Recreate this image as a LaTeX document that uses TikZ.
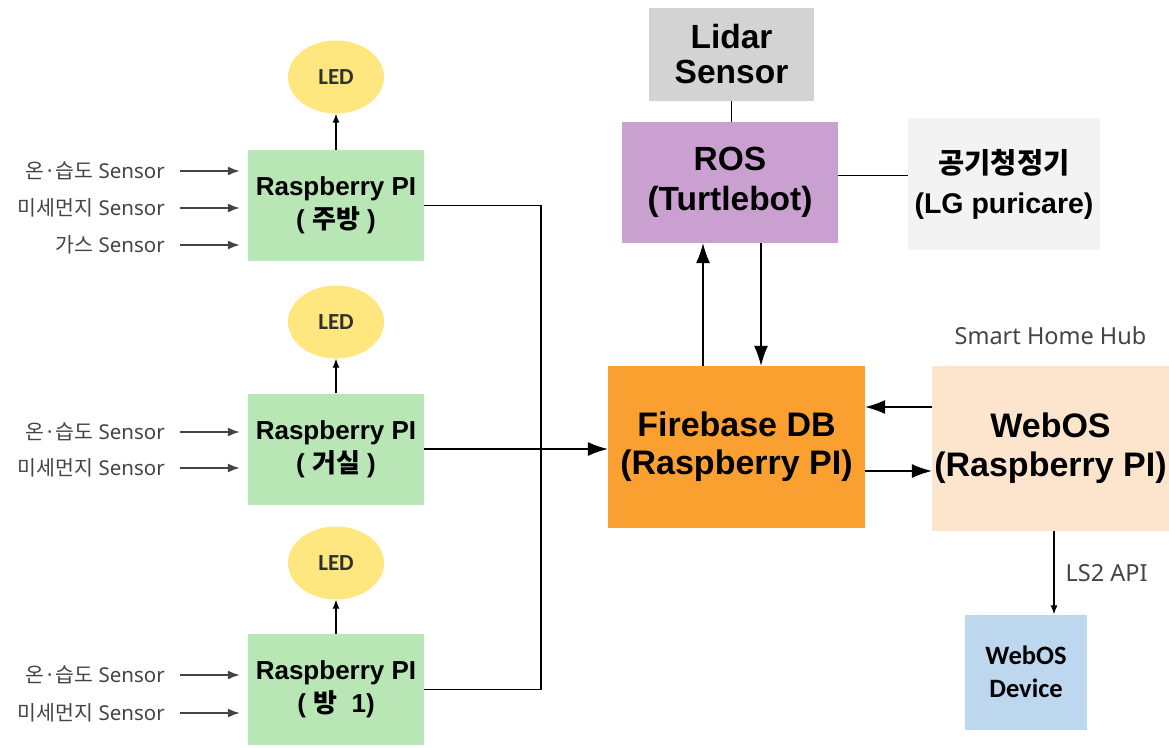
\documentclass[tikz,border=0pt]{standalone}
\usepackage{fontspec}
\setmainfont{Liberation Sans}
\newfontfamily\kr{Noto Sans CJK KR}
\newfontfamily\notosans{Noto Sans}
\newfontfamily\carlito{Carlito}
\usetikzlibrary{arrows.meta,shapes.geometric,positioning}

\definecolor{rpigreen}{HTML}{B8E6B4}
\definecolor{ledyellow}{HTML}{FFE77F}
\definecolor{lidargray}{HTML}{D3D3D3}
\definecolor{rospurple}{HTML}{C9A0D0}
\definecolor{airgray}{HTML}{F3F3F3}
\definecolor{fborange}{HTML}{FAA031}
\definecolor{hubpeach}{HTML}{FDE5CD}
\definecolor{devblue}{HTML}{BDD7EE}
\definecolor{labelgray}{HTML}{444444}

\begin{document}
\begin{tikzpicture}[x=1pt,y=-1pt,
    box/.style={rectangle,inner sep=0pt,align=center,text=black},
    rpi/.style={box,fill=rpigreen,minimum width=176pt,minimum height=111pt,
      font=\fontsize{26}{33}\selectfont\bfseries},
    led/.style={ellipse,fill=ledyellow,minimum width=96pt,minimum height=73pt,
      inner sep=0pt,text=labelgray!70!black,font=\carlito\fontsize{23}{26}\selectfont\bfseries},
    sensor/.style={anchor=east,inner sep=0pt,text=labelgray,
      font=\notosans\fontsize{20.5}{24}\selectfont},
    note/.style={inner sep=0pt,text=labelgray,font=\notosans\fontsize{23.5}{26}\selectfont},
    slink/.style={draw=labelgray,line width=1.6pt,-{Latex[length=12pt,width=9pt]},
      shorten <=15pt,shorten >=8pt},
    ledlink/.style={line width=1.2pt,-{Latex[length=9pt,width=7pt]}},
    link/.style={line width=1.2pt,-{Latex[length=20pt,width=14pt]}},
    wire/.style={line width=1.2pt},
  ]
    \useasboundingbox (0,0) rectangle (1169,747);

    % raspberry pi nodes with their leds
    \node[rpi] (rpi1) at (336,205.5) {Raspberry PI\\( {\kr 주방} )};
    \node[rpi] (rpi2) at (336,449) {Raspberry PI\\( {\kr 거실} )};
    \node[rpi] (rpi3) at (336,689.5) {Raspberry PI\\( {\kr 방}\ \ 1)};
    \node[led] (led1) at (336,77) {LED};
    \node[led] (led2) at (336,322) {LED};
    \node[led] (led3) at (336,563) {LED};
    \foreach \i in {1,2,3}
      \draw[ledlink] (rpi\i) -- (led\i);

    % sensors
    \node[sensor] (s1a) at (165,171) {{\kr 온·습도} Sensor};
    \node[sensor] (s1b) at (165,208) {{\kr 미세먼지} Sensor};
    \node[sensor] (s1c) at (165,245) {{\kr 가스} Sensor};
    \node[sensor] (s2a) at (165,432) {{\kr 온·습도} Sensor};
    \node[sensor] (s2b) at (165,468) {{\kr 미세먼지} Sensor};
    \node[sensor] (s3a) at (165,675) {{\kr 온·습도} Sensor};
    \node[sensor] (s3b) at (165,713) {{\kr 미세먼지} Sensor};
    \foreach \s/\r in {s1a/rpi1,s1b/rpi1,s1c/rpi1,s2a/rpi2,s2b/rpi2,s3a/rpi3,s3b/rpi3}
      \draw[slink] (\s) -- (\s -| \r.west);

    % server side
    \node[box,fill=fborange,minimum width=257pt,minimum height=162pt,
      font=\fontsize{34}{38}\selectfont\bfseries] (fb) at (736.5,447) {Firebase DB\\(Raspberry PI)};
    \node[box,fill=rospurple,minimum width=216pt,minimum height=121pt,
      font=\fontsize{33.5}{40}\selectfont\bfseries] (ros) at (730,182.5) {ROS\\(Turtlebot)};
    \node[box,fill=lidargray,minimum width=165pt,minimum height=93pt,
      font=\fontsize{33.5}{35}\selectfont\bfseries] (lidar) at (731.5,54.5) {Lidar\\Sensor};
    \node[box,fill=airgray,minimum width=192pt,minimum height=132pt,
      font=\fontsize{28.5}{40}\selectfont\bfseries] (air) at (1004,184) {{\kr 공기청정기}\\(LG puricare)};
    \node[box,fill=hubpeach,minimum width=237pt,minimum height=165pt,
      font=\fontsize{34}{39}\selectfont\bfseries] (hub) at (1050.5,448.5) {WebOS\\(Raspberry PI)};
    \node[box,fill=devblue,minimum width=122pt,minimum height=115pt,
      font=\carlito\fontsize{26.5}{33}\selectfont\bfseries] (dev) at (1026,672) {WebOS\\Device};
    \node[note,above=21pt of hub] (hubname) {Smart Home Hub};

    % connections
    \coordinate (bus) at (541,449);
    \draw[wire] (rpi1.east) -| (bus);
    \draw[wire] (rpi3.east) -| (bus);
    \draw[link] (rpi2) -- (rpi2 -| fb.west);
    \draw[wire] (lidar.south) -- (lidar.south |- ros.north);
    \draw[wire] ([yshift=7pt]ros.east) -- ([yshift=7pt]ros.east -| air.west);
    \draw[link] ([xshift=-27pt]ros.south |- fb.north) -- ([xshift=-27pt]ros.south);
    \draw[link] ([xshift=31pt]ros.south) -- ([xshift=31pt]ros.south |- fb.north);
    \draw[link] ([yshift=41.5pt]hub.west) -- ([yshift=41.5pt]hub.west -| fb.east);
    \draw[link] ([yshift=-24pt]fb.east) -- ([yshift=-24pt]fb.east -| hub.west);
    \draw[ledlink] ([xshift=3.5pt]hub.south) -- ([xshift=3.5pt]hub.south |- dev.north)
      node[note,midway,right=11pt] {LS2 API};
\end{tikzpicture}
\end{document}
